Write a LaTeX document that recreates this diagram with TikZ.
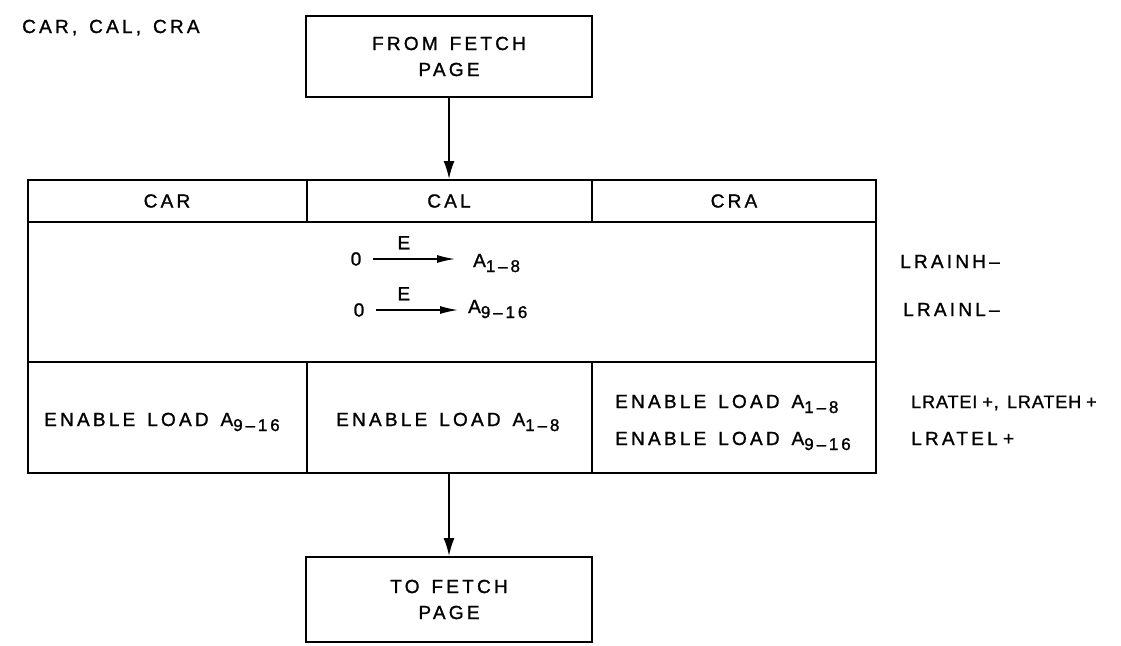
\documentclass[tikz,border=0pt]{standalone}
\usepackage{fontspec}
\setmainfont[LetterSpace=17, FakeBold=1.2, WordSpace=1.4]{Liberation Sans}
\usetikzlibrary{arrows.meta}
\newcommand\lsub[1]{\raisebox{-5pt}{\fontsize{17}{17}\selectfont #1}}
\begin{document}
\begin{tikzpicture}[x=1pt,y=-1pt,
  every node/.style={font=\fontsize{19}{22}\selectfont, inner sep=0pt},
  frame/.style={draw, line width=2pt},
  rule/.style={line width=2pt},
  flow/.style={line width=1.8pt, -{Latex[length=18pt,width=11pt]}},
  sig/.style={line width=1.4pt, -{Latex[length=18pt,width=8pt]}},
  lab/.style={anchor=base west},
  twoline/.style={align=center, font=\fontsize{19}{26}\selectfont},
]
\useasboundingbox (0,0) rectangle (1121,645);

\node[lab] (title) at (22,33) {CAR, CAL, CRA};

\node[frame, twoline, minimum width=286pt, minimum height=81pt] (from) at (449,56.5) {FROM FETCH\\PAGE};

% table
\node[frame, minimum width=848pt, minimum height=293pt] (tbl) at (452,326.5) {};
\draw[rule] (28,222) -- (876,222);
\draw[rule] (28,362) -- (876,362);
\draw[rule] (307,180) -- (307,222);
\draw[rule] (592,180) -- (592,222);
\draw[rule] (307,362) -- (307,473);
\draw[rule] (592,362) -- (592,473);

\node (hcar) at (167,201) {CAR};
\node (hcal) at (449,201) {CAL};
\node (hcra) at (734,201) {CRA};

% middle section
\node (z1) at (356,259) {0};
\node[lab] (a1) at (473,267) {A\lsub{1–8}};
\draw[sig, shorten <=12pt, shorten >=18pt] (z1.east) -- node[pos=0.38, above=9pt]{E} (z1.east -| a1.west);

\node (z2) at (359,310) {0};
\node[lab] (a2) at (468,313) {A\lsub{9–16}};
\draw[sig, shorten <=12pt, shorten >=10pt] (z2.east) -- node[pos=0.38, above=9pt]{E} (z2.east -| a2.west);

\node[lab] (inh) at (900,268) {LRAINH–};
\node[lab] (inl) at (903,316) {LRAINL–};

% bottom row
\node[lab] (car) at (44,426) {ENABLE LOAD\ A\lsub{9–16}};
\node[lab] (cal) at (336,426) {ENABLE LOAD A\lsub{1–8}};
\node[lab] (cra1) at (615,408) {ENABLE LOAD A\lsub{1–8}};
\node[lab] (cra2) at (615,445) {ENABLE LOAD A\lsub{9–16}};
\node[lab, font=\fontsize{18}{22}\selectfont\addfontfeatures{LetterSpace=5}] (rt1) at (911,408) {LRATEI\;+, LRATEH\;+};
\node[lab] (rt2) at (911,445) {LRATEL\;+};

\node[frame, twoline, minimum width=286pt, minimum height=85pt] (to) at (449,599.5) {TO FETCH\\PAGE};

\draw[flow] (from.south) -- (from.south |- tbl.north);
\draw[flow] (tbl.south -| to.north) -- (to.north);
\end{tikzpicture}
\end{document}
